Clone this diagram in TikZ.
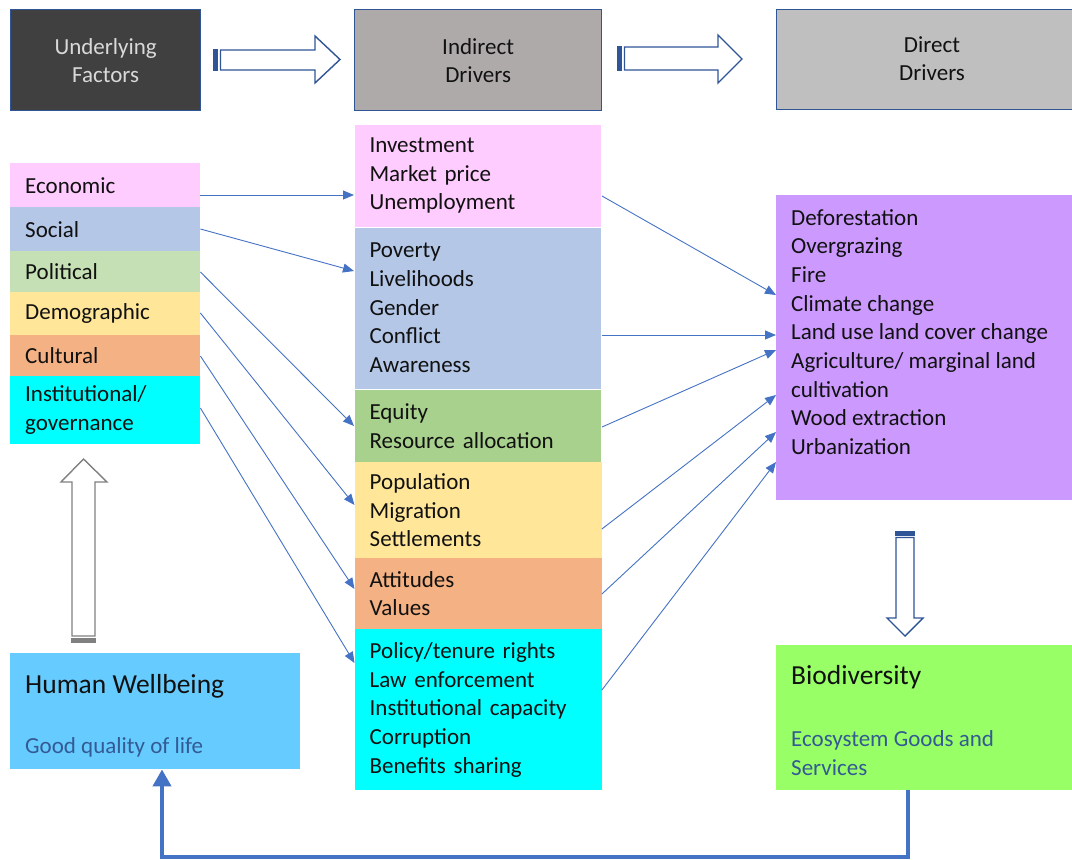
\documentclass[tikz,border=0pt]{standalone}
\usepackage{fontspec}
\setmainfont{Carlito}
\usetikzlibrary{arrows.meta,calc}
\definecolor{hdrblue}{HTML}{2F5597}
\definecolor{lnblue}{HTML}{4472C4}
\definecolor{cPink}{HTML}{FFCCFF}
\definecolor{cSoc}{HTML}{B4C7E7}
\definecolor{cPolL}{HTML}{C5E0B4}
\definecolor{cPolM}{HTML}{A9D18E}
\definecolor{cDem}{HTML}{FFE699}
\definecolor{cCul}{HTML}{F4B183}
\definecolor{cCyan}{HTML}{00FFFF}
\definecolor{cPurple}{HTML}{CC99FF}
\definecolor{cGreen}{HTML}{99FF66}
\definecolor{cSky}{HTML}{66CCFF}
\definecolor{cDark}{HTML}{404040}
\definecolor{cGrayA}{HTML}{AEAAAA}
\definecolor{cGrayB}{HTML}{BFBFBF}
\definecolor{subtxt}{HTML}{345A94}
\definecolor{bodytxt}{HTML}{111111}
\definecolor{arrgray}{HTML}{808080}
\newcommand\mainfs{\fontsize{23}{28.7}\selectfont}
\newcommand\bigfs{\fontsize{27.5}{33}\selectfont}
\begin{document}
\begin{tikzpicture}[x=1pt,y=-1pt,
  hdr/.style={draw=hdrblue,line width=1.3pt,anchor=north west,inner sep=0pt,align=center,
     font=\fontsize{23}{28}\selectfont},
  lbox/.style={anchor=north west,inner xsep=15pt,inner ysep=0pt,align=left,font=\mainfs,
     text=bodytxt},
  mbox/.style={lbox,draw=white,line width=1pt},
  txt/.style={anchor=west,inner sep=0pt,align=left,font=\mainfs,text=bodytxt},
  conn/.style={draw=lnblue,line width=0.9pt,-{Triangle[length=11pt,width=9pt]}},
  blk/.style={draw=hdrblue,line width=1.4pt,fill=white,line join=miter},
]
\useasboundingbox (0,0) rectangle (1072,860);

% header boxes
\node[hdr,fill=cDark,text=white!85!black,minimum width=190pt,minimum height=101pt] (uf) at (10,9) {Underlying\\Factors};
\node[hdr,fill=cGrayA,text=bodytxt,minimum width=247pt,minimum height=101pt] (id) at (354,9) {Indirect\\Drivers};
\node[hdr,fill=cGrayB,text=bodytxt,minimum width=310pt,minimum height=100pt] (dd) at (776,9) {};
\node[anchor=center,inner sep=0pt,align=center,font=\fontsize{23}{28}\selectfont,text=bodytxt] (ddt) at (932,59) {Direct\\Drivers};

% header block arrows
\draw[blk] (220.5,50) -- (315,50) -- (315,36) -- (340,59.5) -- (315,83) -- (315,70) -- (220.5,70) -- cycle;
\fill[hdrblue] (213,49.3) rectangle (218.3,70.7);
\draw[blk] (624.5,47) -- (718,47) -- (718,35) -- (742,59) -- (718,83) -- (718,70) -- (624.5,70) -- cycle;
\fill[hdrblue] (617,46.3) rectangle (622.3,70.7);

% underlying factors column
\node[lbox,fill=cPink,minimum width=190pt,minimum height=44pt,text width=160pt] (econ) at (10,163) {Economic};
\node[lbox,fill=cSoc,minimum width=190pt,minimum height=44pt,text width=160pt] (soc) at (10,207) {Social};
\node[lbox,fill=cPolL,minimum width=190pt,minimum height=41pt,text width=160pt] (pol) at (10,251) {Political};
\node[lbox,fill=cDem,minimum width=190pt,minimum height=43pt,text width=160pt] (dem) at (10,292) {Demographic};
\node[lbox,fill=cCul,minimum width=190pt,minimum height=41pt,text width=160pt] (cul) at (10,335) {Cultural};
\node[lbox,fill=cCyan,minimum width=190pt,minimum height=68pt,text width=160pt] (inst) at (10,376) {Institutional/\\governance};

% indirect drivers column
\node[mbox,fill=cPink,minimum width=247pt,minimum height=103pt,text width=217pt] (inv) at (354,123.5) {Investment\\Market price\\Unemployment};
\node[mbox,fill=cSoc,minimum width=247pt,minimum height=162pt,text width=217pt] (pov) at (354,226.5) {Poverty\\Livelihoods\\Gender\\Conflict\\Awareness};
\node[mbox,fill=cPolM,minimum width=247pt,minimum height=74pt,text width=217pt] (eq) at (354,388.5) {Equity\\Resource allocation};
\node[lbox,fill=cDem,minimum width=247pt,minimum height=96pt,text width=217pt] (pop) at (354.5,462) {Population\\Migration\\Settlements};
\node[lbox,fill=cCul,minimum width=247pt,minimum height=71pt,text width=217pt] (att) at (354.5,558) {Attitudes\\Values};
\node[lbox,fill=cCyan,minimum width=247pt,minimum height=161pt,text width=217pt] (polc) at (354.5,629) {Policy/tenure rights\\Law enforcement\\Institutional capacity\\Corruption\\Benefits sharing};

% direct drivers box
\node[anchor=north west,inner sep=0pt,fill=cPurple,minimum width=310pt,minimum height=305pt] (dir) at (776,195) {};
\node[txt] (dirt) at (791,332) {Deforestation\\Overgrazing\\Fire\\Climate change\\Land use land cover change\\Agriculture/ marginal land\\cultivation\\Wood extraction\\Urbanization};

% biodiversity
\node[anchor=north west,inner sep=0pt,fill=cGreen,minimum width=310pt,minimum height=145pt] (bio) at (776,645) {};
\node[txt,font=\bigfs] (biot) at (791,677) {Biodiversity};
\node[txt,text=subtxt] (bios) at (791,753) {Ecosystem Goods and\\Services};

% human wellbeing
\node[anchor=north west,inner sep=0pt,fill=cSky,minimum width=290pt,minimum height=116pt] (hw) at (10,653) {};
\node[txt,font=\bigfs] (hwt) at (25,686) {Human Wellbeing};
\node[txt,text=subtxt] (hws) at (25,747) {Good quality of life};

% vertical block arrows
\draw[blk,draw=arrgray] (72,636) -- (72,482) -- (61,482) -- (83.5,459) -- (107,482) -- (95,482) -- (95,636) -- cycle;
\fill[arrgray] (71.3,638) rectangle (95.7,643);
\draw[blk] (896,537.5) -- (896,618) -- (887,618) -- (905,636) -- (923,618) -- (914,618) -- (914,537.5) -- cycle;
\fill[hdrblue] (895.3,531) rectangle (914.7,535.5);

% connectors: underlying -> indirect
\draw[conn] ([yshift=-32pt]econ.north east) -- ([yshift=-71.5pt]inv.north west);
\draw[conn] ([yshift=-22pt]soc.north east) -- ([yshift=-44.5pt]pov.north west);
\draw[conn] ([yshift=-21pt]pol.north east) -- ([yshift=-37.5pt]eq.north west);
\draw[conn] ([yshift=-21pt]dem.north east) -- ([yshift=-43pt]pop.north west);
\draw[conn] ([yshift=-21pt]cul.north east) -- ([yshift=-31pt]att.north west);
\draw[conn] ([yshift=-32pt]inst.north east) -- ([yshift=-34pt]polc.north west);

% connectors: indirect -> direct
\draw[conn] ([yshift=-72.5pt]inv.north east) -- ([yshift=-100pt]dir.north west);
\draw[conn] ([yshift=-108.5pt]pov.north east) -- ([yshift=-140pt]dir.north west);
\draw[conn] ([yshift=-38.5pt]eq.north east) -- ([yshift=-155pt]dir.north west);
\draw[conn] ([yshift=-67pt]pop.north east) -- ([yshift=-200pt]dir.north west);
\draw[conn] ([yshift=-36pt]att.north east) -- ([yshift=-237pt]dir.north west);
\draw[conn] ([yshift=-61pt]polc.north east) -- ([yshift=-267pt]dir.north west);

% feedback
\coordinate (fbA) at (908,857);
\coordinate (fbB) at (162,857);
\draw[draw=lnblue,line width=4pt,-{Triangle[length=17pt,width=18pt]}]
  ([xshift=132pt]bio.south west) -- (fbA) -- (fbB) -- ([xshift=152pt]hw.south west);
\end{tikzpicture}
\end{document}
